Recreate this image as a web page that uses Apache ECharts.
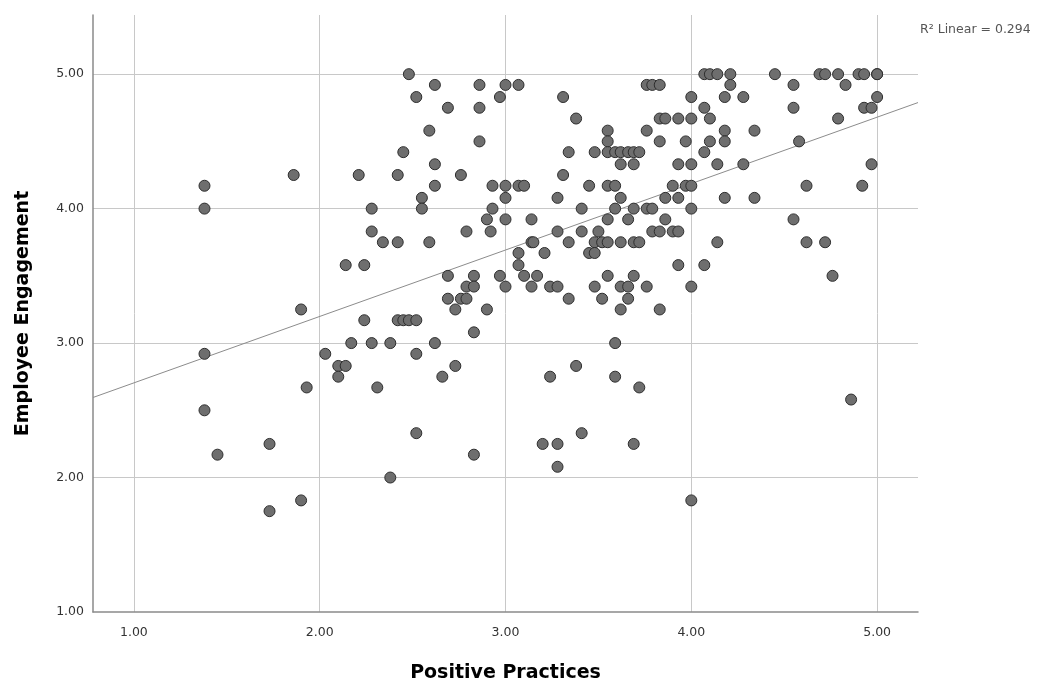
<!DOCTYPE html>
<html>
<head>
<meta charset="utf-8">
<script src="https://cdn.jsdelivr.net/npm/echarts@6/dist/echarts.min.js"></script>
<style>
html,body{margin:0;padding:0;background:#ffffff;}
#chart{width:1047px;height:683px;}
</style>
</head>
<body>
<div id="chart"></div>
<script>
// Employee Engagement levels (y) and the Positive Practices values (x) read at each level
const engagementLevels = [5.00, 4.92, 4.83, 4.75, 4.67, 4.58, 4.50, 4.42, 4.33, 4.25, 4.17, 4.08, 4.00, 3.92, 3.83, 3.75, 3.67, 3.58, 3.50, 3.42, 3.33, 3.25, 3.17, 3.08, 3.00, 2.92, 2.83, 2.75, 2.67, 2.58, 2.50, 2.33, 2.25, 2.17, 2.08, 2.00, 1.83, 1.75];
const practicesByLevel = [
  [2.48, 4.07, 4.10, 4.14, 4.21, 4.45, 4.69, 4.72, 4.79, 4.90, 4.93, 5.00, 5.00],
  [2.62, 2.86, 3.00, 3.07, 3.76, 3.79, 3.83, 4.21, 4.55, 4.83],
  [2.52, 2.97, 3.31, 4.00, 4.18, 4.28, 5.00],
  [2.69, 2.86, 4.07, 4.55, 4.93, 4.97],
  [3.38, 3.83, 3.86, 3.93, 4.00, 4.10, 4.79],
  [2.59, 3.55, 3.76, 4.18, 4.34],
  [2.86, 3.55, 3.83, 3.97, 4.10, 4.18, 4.58],
  [2.45, 3.34, 3.48, 3.55, 3.59, 3.62, 3.66, 3.69, 3.72, 4.07],
  [2.62, 3.62, 3.69, 3.93, 4.00, 4.14, 4.28, 4.97],
  [1.86, 2.21, 2.42, 2.76, 3.31],
  [1.38, 2.62, 2.93, 3.00, 3.07, 3.10, 3.45, 3.55, 3.59, 3.90, 3.97, 4.00, 4.62, 4.92],
  [2.55, 3.00, 3.28, 3.62, 3.86, 3.93, 4.18, 4.34],
  [1.38, 2.28, 2.55, 2.93, 3.41, 3.59, 3.69, 3.76, 3.79, 4.00],
  [2.90, 3.00, 3.14, 3.55, 3.66, 3.86, 4.55],
  [2.28, 2.79, 2.92, 3.28, 3.41, 3.50, 3.79, 3.83, 3.90, 3.93],
  [2.34, 2.42, 2.59, 3.14, 3.15, 3.34, 3.48, 3.52, 3.55, 3.62, 3.69, 3.72, 4.14, 4.62, 4.72],
  [3.07, 3.21, 3.45, 3.48],
  [2.14, 2.24, 3.07, 3.93, 4.07],
  [2.69, 2.83, 2.97, 3.10, 3.17, 3.55, 3.69, 4.76],
  [2.79, 2.83, 3.00, 3.14, 3.24, 3.28, 3.48, 3.62, 3.66, 3.76, 4.00],
  [2.69, 2.76, 2.79, 3.34, 3.52, 3.66],
  [1.90, 2.73, 2.90, 3.62, 3.83],
  [2.24, 2.42, 2.45, 2.48, 2.52],
  [2.83],
  [2.17, 2.28, 2.38, 2.62, 3.59],
  [1.38, 2.03, 2.52],
  [2.10, 2.14, 2.73, 3.38],
  [2.10, 2.66, 3.24, 3.59],
  [1.93, 2.31, 3.72],
  [4.86],
  [1.38],
  [2.52, 3.41],
  [1.73, 3.20, 3.28, 3.69],
  [1.45, 2.83],
  [3.28],
  [2.38],
  [1.90, 4.00],
  [1.73]
];
const xTickLabels = ['1.00', '2.00', '3.00', '4.00', '5.00'];
const yTickLabels = ['1.00', '2.00', '3.00', '4.00', '5.00'];
const xAxisRange = [0.78, 5.22];
const yAxisRange = [1.00, 5.44];
// Fit line: y = a + b x
const fitIntercept = 2.21;
const fitSlope = 0.494;
const fitLabel = 'R\u00B2 Linear = 0.294';
const xTitle = 'Positive Practices';
const yTitle = 'Employee Engagement';

const points = [];
engagementLevels.forEach((lvl, i) => {
  practicesByLevel[i].forEach(x => points.push([x, lvl]));
});
const fitLine = xAxisRange.map(x => [x, fitIntercept + fitSlope * x]);

const FONT = '"DejaVu Sans", "Liberation Sans", Arial, sans-serif';
const chart = echarts.init(document.getElementById('chart'), null, {renderer: 'canvas'});
chart.setOption({
  backgroundColor: '#ffffff',
  animation: false,
  grid: {left: 93, right: 129, top: 15, bottom: 71, containLabel: false, outerBoundsMode: 'none'},
  xAxis: {
    type: 'value',
    min: xAxisRange[0], max: xAxisRange[1],
    minInterval: 1, maxInterval: 1,
    name: xTitle, nameLocation: 'middle', nameGap: 52,
    nameTextStyle: {fontFamily: FONT, fontSize: 19, fontWeight: 'bold', color: '#000'},
    axisLine: {show: true, onZero: false, lineStyle: {color: '#8a8a8a', width: 1.5}},
    axisTick: {show: false},
    axisLabel: {
      showMinLabel: false, showMaxLabel: false, margin: 14,
      fontFamily: FONT, fontSize: 12.5, color: '#333',
      formatter: v => { const s = v.toFixed(2); return xTickLabels.includes(s) ? s : ''; }
    },
    splitLine: {show: true, showMinLine: false, showMaxLine: false, lineStyle: {color: '#c8c8c8', width: 1}}
  },
  yAxis: {
    type: 'value',
    min: yAxisRange[0], max: yAxisRange[1], interval: 1,
    name: yTitle, nameLocation: 'middle', nameGap: 60, nameRotate: 90,
    nameTextStyle: {fontFamily: FONT, fontSize: 19, fontWeight: 'bold', color: '#000'},
    axisLine: {show: true, onZero: false, lineStyle: {color: '#8a8a8a', width: 1.5}},
    axisTick: {show: false},
    axisLabel: {
      showMaxLabel: false, margin: 9,
      fontFamily: FONT, fontSize: 12.5, color: '#333',
      formatter: v => { const s = v.toFixed(2); return yTickLabels.includes(s) ? s : ''; }
    },
    splitLine: {show: true, showMinLine: false, showMaxLine: false, lineStyle: {color: '#c8c8c8', width: 1}}
  },
  series: [
    {
      type: 'line', data: fitLine, symbol: 'none', silent: true, z: 1,
      lineStyle: {color: '#8c8c8c', width: 1}
    },
    {
      type: 'scatter', data: points, symbol: 'circle', symbolSize: 11, z: 2,
      itemStyle: {color: '#6e6e6e', borderColor: '#2e2e2e', borderWidth: 1, opacity: 1}
    }
  ],
  graphic: [{
    type: 'text', left: 920, top: 23,
    style: {text: fitLabel, fontFamily: FONT, fontSize: 12.5, fill: '#555'}
  }]
});
</script>
</body>
</html>
